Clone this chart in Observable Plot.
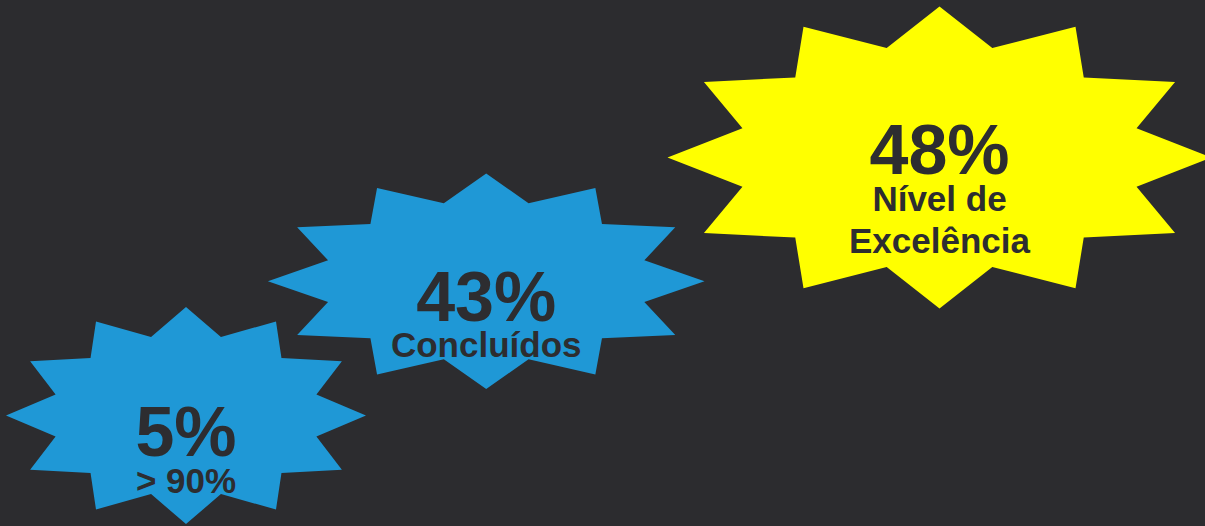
<!DOCTYPE html>
<html>
<head>
<meta charset="utf-8">
<script src="https://cdn.jsdelivr.net/npm/d3@7"></script>
<script src="https://cdn.jsdelivr.net/npm/@observablehq/plot@0.6"></script>
<style>
  html, body { margin: 0; padding: 0; background: #2c2c2f; }
  #chart { width: 1205px; height: 526px; overflow: hidden; }
</style>
</head>
<body>
<div id="chart"></div>
<script>
// ---- data ----
const values = [5, 43, 48];
const valueLabels = ["5%", "43%", "48%"];
const categories = ["> 90%", "Concluídos", "Nível de\nExcelência"];

// ---- layout (positions / sizes in chart units) ----
const centerX = [185.5, 485.7, 939];
const centerY = [415, 280.7, 157];
const radiusX = [180, 218.3, 272];
const radiusY = [108.5, 107.7, 151];
const valueOffset = [40, 40, 16];
const labelOffset = [77, 76, 95.5];
const valueSize = [70, 70, 70];
const labelSize = [35, 35, 35];

// ---- styles ----
const fills = ["#1f98d6", "#1f98d6", "#ffff00"];
const textColor = "#2d2d30";
const bg = "#2c2c2f";
const W = 1205, H = 526;
const nPoints = 12, innerRatio = 0.75;

// star outline vertices derived from the layout
const starPts = [];
values.forEach((v, i) => {
  for (let k = 0; k < nPoints * 2; k++) {
    const a = (k * Math.PI) / nPoints;
    const r = k % 2 === 0 ? 1 : innerRatio;
    starPts.push({
      star: i,
      fill: fills[i],
      x: centerX[i] + r * radiusX[i] * Math.cos(a),
      y: centerY[i] - r * radiusY[i] * Math.sin(a)
    });
  }
});

const items = values.map((v, i) => ({
  value: valueLabels[i],
  label: categories[i],
  x: centerX[i],
  yv: centerY[i] + valueOffset[i],
  yl: centerY[i] + labelOffset[i],
  vs: valueSize[i],
  ls: labelSize[i]
}));

const font = "'Liberation Sans', Arial, Helvetica, sans-serif";

const chart = Plot.plot({
  width: W,
  height: H,
  margin: 0,
  x: {domain: [0, W], range: [0, W], axis: null},
  y: {domain: [0, H], range: [0, H], axis: null},
  color: {type: "identity"},
  style: {background: bg, overflow: "hidden"},
  marks: [
    Plot.line(starPts, {x: "x", y: "y", z: "star", fill: "fill", stroke: "none", curve: "linear-closed"}),
    ...items.map(d => Plot.text([d], {
      x: "x", y: "yv", text: "value", fontSize: d.vs, fontWeight: "bold",
      fontFamily: font, fill: textColor, lineAnchor: "bottom", textAnchor: "middle"
    })),
    ...items.map(d => Plot.text([d], {
      x: "x", y: "yl", text: "label", fontSize: d.ls, fontWeight: "bold",
      fontFamily: font, fill: textColor, lineAnchor: "bottom", textAnchor: "middle",
      lineHeight: 1.2
    }))
  ]
});
document.getElementById("chart").appendChild(chart);
</script>
</body>
</html>
